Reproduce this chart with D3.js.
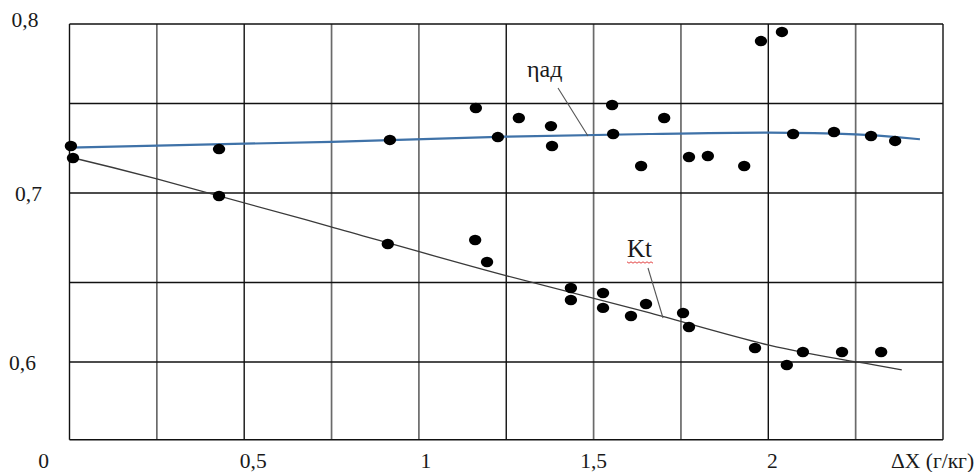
<!DOCTYPE html>
<html>
<head>
<meta charset="utf-8">
<script src="https://cdn.jsdelivr.net/npm/d3@7/dist/d3.min.js"></script>
<style>
  html, body { margin: 0; padding: 0; background: #fff; }
  svg { display: block; }
  text { font-family: "Liberation Serif", "Times New Roman", serif; fill: #1a1a1a; }
</style>
</head>
<body>
<svg id="chart" width="978" height="472"></svg>
<script>
// ---------- data ----------
const etaX = [0.004, 0.428, 0.917, 1.163, 1.226, 1.286, 1.378, 1.381, 1.553, 1.556, 1.636,
              1.702, 1.773, 1.827, 1.931, 1.979, 2.039, 2.071, 2.188, 2.294, 2.363];
const etaY = [0.7278, 0.7260, 0.7314, 0.7503, 0.7331, 0.7444, 0.7396, 0.7278, 0.7521, 0.7349, 0.7160,
              0.7444, 0.7213, 0.7219, 0.7160, 0.7899, 0.7953, 0.7349, 0.7361, 0.7337, 0.7308];

const ktX = [0.010, 0.428, 0.911, 1.161, 1.195, 1.435, 1.435, 1.527, 1.527, 1.607, 1.650,
             1.756, 1.773, 1.962, 2.053, 2.099, 2.211, 2.323];
const ktY = [0.7207, 0.6982, 0.6698, 0.6722, 0.6592, 0.6438, 0.6367, 0.6408, 0.6320, 0.6272, 0.6343,
             0.6290, 0.6207, 0.6083, 0.5982, 0.6059, 0.6059, 0.6059];

// trend lines
const etaTrendX = [0.0, 0.75, 1.25, 1.66, 2.0, 2.25, 2.36, 2.434];
const etaTrendY = [0.7269, 0.7303, 0.7333, 0.7349, 0.7357, 0.7347, 0.7332, 0.7318];
const ktTrendX = [0.0, 0.25, 0.746, 1.249, 1.661, 1.999, 2.248, 2.382];
const ktTrendY = [0.7213, 0.7083, 0.6801, 0.6511, 0.6290, 0.6101, 0.6002, 0.5953];

// axis / grid
const xTickValues = [0, 0.5, 1, 1.5, 2];
const xTickLabels = ["0", "0,5", "1", "1,5", "2"];
const yTickValues = [0.8, 0.7, 0.6];
const yTickLabels = ["0,8", "0,7", "0,6"];
const xGridValues = [0, 0.25, 0.5, 0.75, 1, 1.25, 1.5, 1.75, 2, 2.25, 2.5];
const yGridValues = [0.8, 0.753, 0.7, 0.647, 0.6, 0.554];
const xAxisTitle = "ΔX (г/кг)";
const etaLabel = "ηад";
const ktLabel = "Kt";

// ---------- scales ----------
const svg = d3.select("#chart");
const x = d3.scaleLinear().domain([0, 2.5]).range([69.5, 943]);
const y = d3.scaleLinear().domain([0.6, 0.8]).range([362, 24]);

// ---------- grid ----------
const grid = svg.append("g");
const darkCols = new Set([0, 2, 5, 8, 10]);
grid.selectAll("line.v").data(xGridValues).join("line")
  .attr("class", "v")
  .attr("x1", d => x(d)).attr("x2", d => x(d))
  .attr("y1", y(yGridValues[0])).attr("y2", y(yGridValues[yGridValues.length - 1]))
  .attr("stroke", (d, i) => darkCols.has(i) ? "#111" : "#6a6a6a")
  .attr("stroke-width", (d, i) => darkCols.has(i) ? 1.4 : 1.7);
grid.selectAll("line.h").data(yGridValues).join("line")
  .attr("class", "h")
  .attr("x1", x(0)).attr("x2", x(2.5))
  .attr("y1", d => y(d)).attr("y2", d => y(d))
  .attr("stroke", "#111").attr("stroke-width", 1.4);

// ---------- tick labels ----------
const fs = 21.5;
svg.append("g").selectAll("text").data(yTickValues).join("text")
  .attr("x", (d, i) => [25, 28.5, 22.5][i])
  .attr("y", (d, i) => y(d) - (i === 0 ? 5 : 0))
  .attr("dy", "0.35em")
  .attr("text-anchor", "middle")
  .attr("font-size", fs)
  .text((d, i) => yTickLabels[i]);

svg.append("g").selectAll("text").data(xTickValues).join("text")
  .attr("x", (d, i) => d === 0 ? x(d) - 26 : x(d) + [0, 9, 7, 0, 4][i])
  .attr("y", 468)
  .attr("text-anchor", "middle")
  .attr("font-size", fs)
  .text((d, i) => xTickLabels[i]);

svg.append("text")
  .attr("x", 891).attr("y", 468)
  .attr("font-size", fs)
  .text(xAxisTitle);

// ---------- trend lines ----------
const line = d3.line().x(d => x(d[0])).y(d => y(d[1])).curve(d3.curveNatural);
svg.append("path")
  .attr("d", line(d3.zip(etaTrendX, etaTrendY)))
  .attr("fill", "none").attr("stroke", "#3f72a8").attr("stroke-width", 2.2);
svg.append("path")
  .attr("d", line(d3.zip(ktTrendX, ktTrendY)))
  .attr("fill", "none").attr("stroke", "#3a3a3a").attr("stroke-width", 1.3);

// ---------- points ----------
const pts = svg.append("g");
pts.selectAll("ellipse.eta").data(d3.zip(etaX, etaY)).join("ellipse")
  .attr("class", "eta")
  .attr("cx", d => x(d[0])).attr("cy", d => y(d[1]))
  .attr("rx", 6.2).attr("ry", 5.2).attr("fill", "#000");
pts.selectAll("ellipse.kt").data(d3.zip(ktX, ktY)).join("ellipse")
  .attr("class", "kt")
  .attr("cx", d => x(d[0])).attr("cy", d => y(d[1]))
  .attr("rx", 6.2).attr("ry", 5.2).attr("fill", "#000");

// ---------- annotations ----------
svg.append("text")
  .attr("x", 527).attr("y", 77)
  .attr("font-size", 24)
  .text(etaLabel);
svg.append("line")
  .attr("x1", 558).attr("y1", 88).attr("x2", 588).attr("y2", 136)
  .attr("stroke", "#555").attr("stroke-width", 1.1);

svg.append("text")
  .attr("x", 627).attr("y", 257)
  .attr("font-size", 25)
  .text(ktLabel);
// spell-check style wavy underline under Kt
const wave = [];
for (let px = 627; px <= 653; px += 2) wave.push([px, 262 + ((px - 627) / 2 % 2 ? 1.2 : -0.2)]);
svg.append("path")
  .attr("d", d3.line()(wave))
  .attr("fill", "none").attr("stroke", "#e03030").attr("stroke-width", 0.9);
svg.append("line")
  .attr("x1", 648).attr("y1", 268).attr("x2", 663).attr("y2", 318)
  .attr("stroke", "#555").attr("stroke-width", 1.1);
</script>
</body>
</html>
